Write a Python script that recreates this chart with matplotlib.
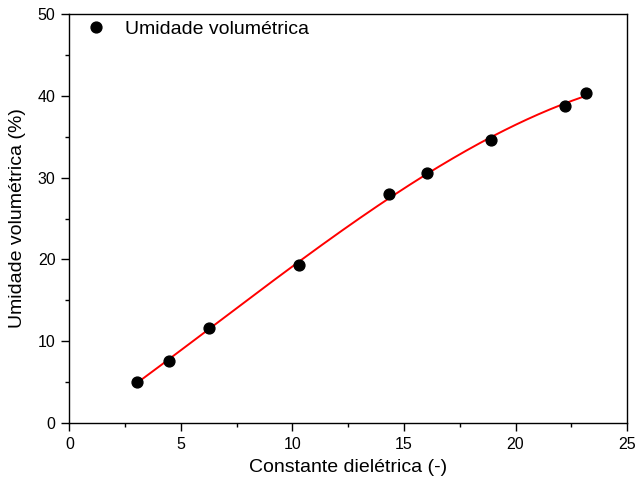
import numpy as np
import matplotlib
matplotlib.use('Agg')
import matplotlib.pyplot as plt
from matplotlib.ticker import MultipleLocator

plt.rcParams['font.family'] = ['Liberation Sans', 'DejaVu Sans']

# Data
constante = [3.03, 4.47, 6.27, 10.29, 14.31, 16.04, 18.9, 22.21, 23.14]
umidade = [5.05, 7.6, 11.6, 19.35, 28.05, 30.55, 34.55, 38.75, 40.35]

# Fitted curve through the points
coef = np.polyfit(constante, umidade, 3)
xfit = np.linspace(min(constante), max(constante), 200)
yfit = np.polyval(coef, xfit)

fig = plt.figure(figsize=(6.36, 4.88), dpi=100)
ax = fig.add_axes([0.109, 0.1332, 0.877, 0.838])

ax.plot(xfit, yfit, color='red', lw=1.4, zorder=2)
ax.plot(constante, umidade, 'o', color='black', ms=7.8, zorder=3,
        label='Umidade volumétrica')

ax.set_xlim(0, 25)
ax.set_ylim(0, 50)
ax.xaxis.set_major_locator(MultipleLocator(5))
ax.xaxis.set_minor_locator(MultipleLocator(2.5))
ax.yaxis.set_major_locator(MultipleLocator(10))
ax.yaxis.set_minor_locator(MultipleLocator(5))
ax.tick_params(which='major', direction='out', length=6, width=1, labelsize=11.5, pad=4)
ax.tick_params(which='minor', direction='out', length=3, width=1)
for s in ax.spines.values():
    s.set_linewidth(1)

ax.set_xlabel('Constante dielétrica (-)', fontsize=14, labelpad=5)
ax.set_ylabel('Umidade volumétrica (%)', fontsize=14, labelpad=8)

ax.legend(loc='upper left', bbox_to_anchor=(0.031, 0.985), frameon=False,
          fontsize=14, handletextpad=0.95, borderaxespad=0, borderpad=0,
          handlelength=1.0)

plt.savefig('out.png', dpi=100)
